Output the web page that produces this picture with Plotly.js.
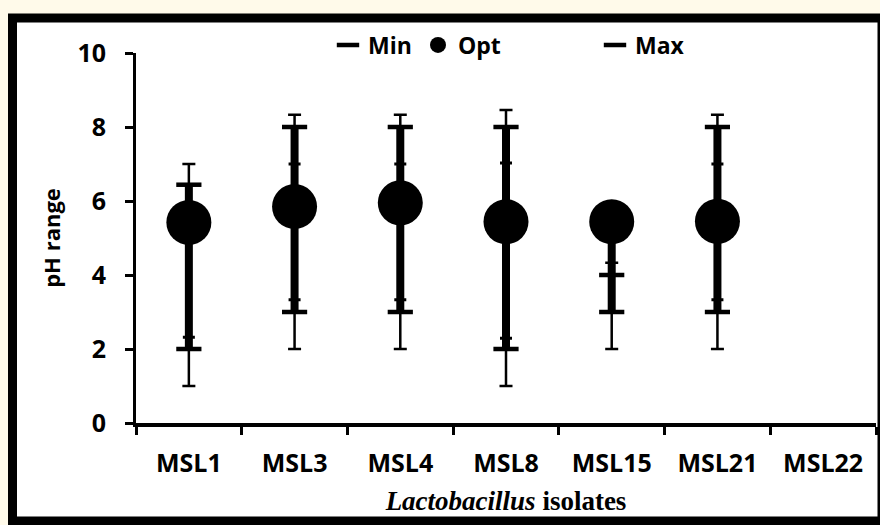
<!DOCTYPE html>
<html>
<head>
<meta charset="utf-8">
<script src="https://cdn.plot.ly/plotly-3.0.1.min.js"></script>
<style>
  html, body { margin: 0; padding: 0; background: #fffaea; }
  #chart { width: 880px; height: 525px; }
</style>
</head>
<body>
<div id="chart"></div>
<script>
// ---- data ----
const categories = ['MSL1', 'MSL3', 'MSL4', 'MSL8', 'MSL15', 'MSL21', 'MSL22'];
const optValues  = [5.42, 5.85, 5.95, 5.44, 5.44, 5.45, null];
const minValues  = [2, 3, 3, 2, 3, 3, null];
const maxValues  = [6.44, 8, 8, 8, 4, 8, null];
const lowLimit   = [1, 2, 2, 1, 2, 2, null];          // thin whisker bottom
const highLimit  = [7, 8.33, 8.33, 8.46, 4.33, 8.33, null]; // thin whisker top
const innerLow   = [2.32, 3.33, 3.33, 2.29, null, 3.33, null];
const innerHigh  = [null, 7, 7, 7.03, null, 7, null];
const yTickVals  = [0, 2, 4, 6, 8, 10];

// ---- geometry helpers (pixel -> paper) ----
const W = 880, H = 525;
const M = { l: 136, r: 4, t: 53, b: 102 };
const pw = W - M.l - M.r, ph = H - M.t - M.b;
const px = x => (x - M.l) / pw;
const py = y => (H - M.b - y) / ph;

const FONT = 'Open Sans, sans-serif';
const diff = (a, b) => (a == null || b == null) ? 0 : Math.max(0, a - b);

const hidden = { size: 1, color: 'rgba(0,0,0,0)' };

const traces = [
  { // thin whiskers
    x: categories, y: minValues, type: 'scatter', mode: 'markers', marker: hidden,
    showlegend: false, hoverinfo: 'skip',
    error_y: { type: 'data', symmetric: false,
      array: highLimit.map((v, i) => diff(v, minValues[i])),
      arrayminus: minValues.map((v, i) => diff(v, lowLimit[i])),
      color: '#000', thickness: 2.5, width: 6.5 }
  },
  { // thick range bar
    x: categories, y: optValues, type: 'scatter', mode: 'markers', marker: hidden,
    showlegend: false, hoverinfo: 'skip',
    error_y: { type: 'data', symmetric: false,
      array: maxValues.map((v, i) => diff(v, optValues[i])),
      arrayminus: optValues.map((v, i) => diff(v, minValues[i])),
      color: '#000', thickness: 8, width: 0 }
  },
  { // inner ticks
    x: categories, y: optValues, type: 'scatter', mode: 'markers', marker: hidden,
    showlegend: false, hoverinfo: 'skip',
    error_y: { type: 'data', symmetric: false,
      array: innerHigh.map((v, i) => diff(v, optValues[i])),
      arrayminus: optValues.map((v, i) => diff(v, innerLow[i])),
      color: '#000', thickness: 3, width: 6 }
  },
  { name: 'Min', x: categories, y: minValues, type: 'scatter', mode: 'markers', legend: 'legend',
    marker: { symbol: 'line-ew', size: 18, color: '#000', line: { color: '#000', width: 4.5 } } },
  { name: 'Opt', x: categories, y: optValues, type: 'scatter', mode: 'markers', legend: 'legend2',
    marker: { symbol: 'circle', size: 45, color: '#000', line: { width: 0 } } },
  { name: 'Max', x: categories, y: maxValues, type: 'scatter', mode: 'markers', legend: 'legend3',
    marker: { symbol: 'line-ew', size: 18, color: '#000', line: { color: '#000', width: 4.5 } } }
];

const legendBase = {
  orientation: 'h', yanchor: 'middle', xanchor: 'left', y: py(45),
  bgcolor: 'rgba(0,0,0,0)', borderwidth: 0,
  font: { family: FONT, size: 23, color: '#000', weight: 'bold' }
};

const layout = {
  width: W, height: H,
  margin: M,
  paper_bgcolor: '#fffaea',
  plot_bgcolor: 'rgba(0,0,0,0)',
  showlegend: true,
  legend:  Object.assign({}, legendBase, { x: px(328) }),
  legend2: Object.assign({}, legendBase, { x: px(418) }),
  legend3: Object.assign({}, legendBase, { x: px(595) }),
  xaxis: {
    type: 'category', range: [-0.5, 6.5],
    showline: true, linecolor: '#000', linewidth: 4,
    ticks: 'outside', tickson: 'boundaries', ticklen: 8, tickwidth: 3, tickcolor: '#000',
    showgrid: false, zeroline: false, fixedrange: true,
    ticklabelstandoff: 15,
    tickfont: { family: FONT, size: 25, color: '#000', weight: 'bold' },
    title: { text: '<i>Lactobacillus</i> isolates', standoff: 14,
      font: { family: 'Liberation Serif, Times New Roman, serif', size: 27, color: '#000', weight: 'bold' } }
  },
  yaxis: {
    range: [0, 10], tickvals: yTickVals, ticktext: yTickVals.map(String),
    showline: true, linecolor: '#000', linewidth: 3,
    ticks: 'outside', ticklen: 8, tickwidth: 3, tickcolor: '#000',
    showgrid: false, zeroline: false, fixedrange: true,
    ticklabelstandoff: 14,
    tickfont: { family: FONT, size: 25, color: '#000', weight: 'bold' },
    title: { text: 'pH range', standoff: 11,
      font: { family: FONT, size: 22, color: '#000', weight: 'bold' } }
  },
  shapes: [
    { type: 'rect', xref: 'paper', yref: 'paper', layer: 'below',
      x0: px(12.5), x1: px(882), y0: py(18), y1: py(521),
      fillcolor: '#ffffff', line: { color: '#000', width: 9 } }
  ]
};

Plotly.newPlot('chart', traces, layout, { staticPlot: true, displayModeBar: false });
</script>
</body>
</html>
